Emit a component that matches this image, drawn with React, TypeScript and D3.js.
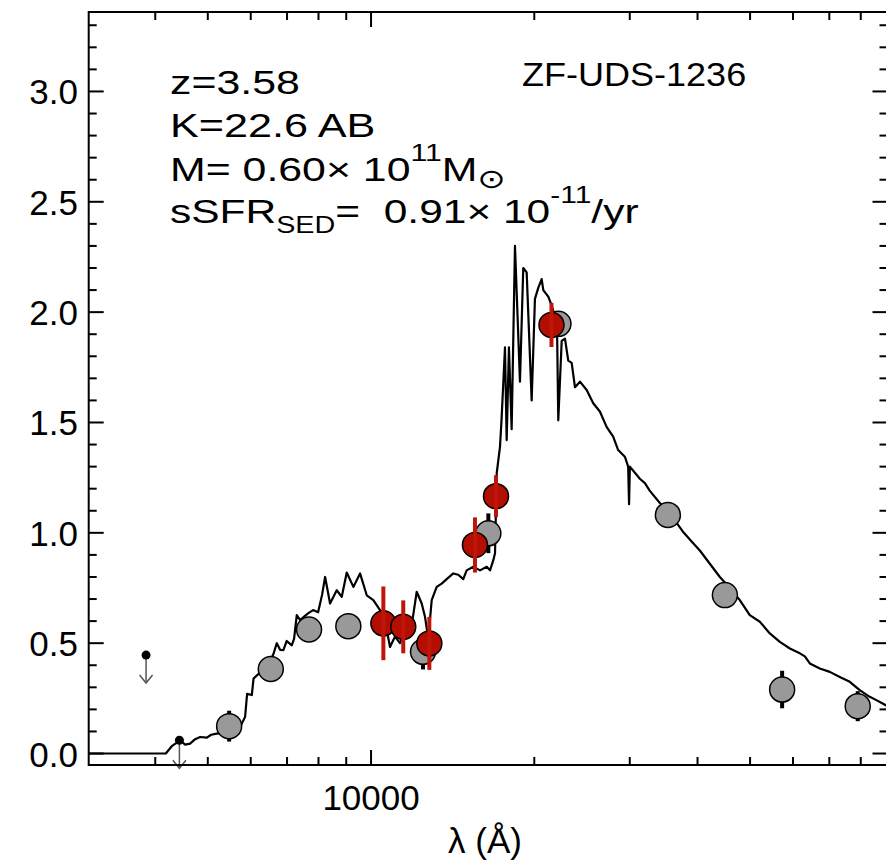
import React from 'react';
import * as d3 from 'd3';

// Model SED (observed wavelength in Angstrom, flux)
const modelLambda = [3000, 4184, 4298, 4446, 4541, 4638, 4738, 4840, 4980, 5071, 5194, 5335, 5497, 5639, 5736, 5858, 5908, 6027, 6073, 6197, 6324, 6459, 6605, 6702, 6797, 6892, 6991, 7141, 7212, 7295, 7398, 7525, 7664, 7819, 7987, 8124, 8228, 8403, 8644, 8831, 9020, 9277, 9544, 9819, 10098, 10390, 10612, 10840, 11071, 11308, 11551, 11799, 12140, 12400, 12574, 12752, 12938, 13215, 13498, 13787, 14179, 14483, 14793, 15009, 15436, 15885, 16341, 16573, 16808, 16928, 17051, 17290, 17402, 17660, 17787, 17960, 18168, 18426, 18820, 19086, 19364, 19779, 20056, 20340, 20637, 20780, 21225, 21535, 21836, 22023, 22145, 22469, 22783, 23105, 23443, 23770, 24279, 24982, 25688, 26424, 27187, 27956, 28559, 29380, 29795, 29911, 30010, 31310, 31990, 32670, 34088, 35270, 36486, 37746, 39048, 40393, 42150, 43980, 45880, 47864, 49939, 52120, 54375, 56740, 59200, 61760, 63100, 64440, 67230, 70150, 73180, 76350, 79650, 83100, 85500, 88940, 90000];
const modelFlux = [0, 0, 0.035, 0.06, 0.04, 0.045, 0.065, 0.075, 0.072, 0.085, 0.09, 0.095, 0.1, 0.11, 0.12, 0.166, 0.27, 0.265, 0.34, 0.36, 0.38, 0.4, 0.45, 0.5, 0.47, 0.468, 0.51, 0.49, 0.52, 0.627, 0.605, 0.62, 0.636, 0.65, 0.64, 0.72, 0.8, 0.68, 0.74, 0.71, 0.82, 0.755, 0.816, 0.717, 0.695, 0.65, 0.6, 0.483, 0.53, 0.5, 0.56, 0.53, 0.733, 0.68, 0.62, 0.52, 0.695, 0.755, 0.77, 0.79, 0.816, 0.81, 0.79, 0.83, 0.846, 0.83, 0.846, 0.83, 0.876, 0.907, 1.27, 1.39, 1.51, 1.84, 1.42, 1.84, 1.47, 2.3, 1.685, 2.2, 2.18, 1.6, 2.06, 2.11, 2.15, 2.1, 2.07, 2.03, 1.98, 1.95, 1.51, 1.87, 1.88, 1.78, 1.77, 1.66, 1.685, 1.647, 1.587, 1.55, 1.48, 1.436, 1.375, 1.345, 1.3, 1.13, 1.3, 1.245, 1.225, 1.19, 1.135, 1.1, 1.05, 1.0, 0.96, 0.92, 0.86, 0.8, 0.75, 0.695, 0.627, 0.597, 0.544, 0.506, 0.476, 0.454, 0.44, 0.408, 0.385, 0.37, 0.347, 0.325, 0.287, 0.257, 0.242, 0.219, 0.21];

// Broad-band photometry (gray)
const grayLambda = [5474, 6533, 7685, 9081, 12469, 16455, 22163, 35270, 44930, 57290, 78980];
const grayFlux = [0.124, 0.383, 0.562, 0.577, 0.461, 0.998, 1.947, 1.081, 0.718, 0.29, 0.2145];
const grayErr = [0.07, 0.04, 0.04, 0.04, 0.08, 0.09, 0.04, 0.04, 0.04, 0.085, 0.068];

// Medium-band photometry (red)
const redLambda = [10537, 11466, 12808, 15547, 17000, 21515];
const redFlux = [0.59, 0.574, 0.499, 0.945, 1.166, 1.942];
const redErr = [0.167, 0.12, 0.12, 0.125, 0.095, 0.1];

// Upper limits
const limLambda = [3847, 4432];
const limFlux = [0.446, 0.06];

// Axis ticks
const xMajorTicks = [10000];
const xMajorLabels = ['10000'];
const xMinorTicks = [4000, 5000, 6000, 7000, 8000, 9000, 20000, 30000, 40000, 50000, 60000, 70000, 80000];
const yMajorTicks = [0, 0.5, 1.0, 1.5, 2.0, 2.5, 3.0];
const yMajorLabels = ['0.0', '0.5', '1.0', '1.5', '2.0', '2.5', '3.0'];
const yMinorTicks = [0.1, 0.2, 0.3, 0.4, 0.6, 0.7, 0.8, 0.9, 1.1, 1.2, 1.3, 1.4, 1.6, 1.7, 1.8, 1.9, 2.1, 2.2, 2.3, 2.4, 2.6, 2.7, 2.8, 2.9, 3.1, 3.2, 3.3];

const FONT = '"Liberation Sans", Arial, Helvetica, sans-serif';

export default function App() {
  const W = 886, H = 863;
  const L = 88.7, R = 887.5, T = 12, B = 765;
  const x = d3.scaleLog().domain([3000, 90000]).range([87.5, 888.5]);
  const y = d3.scaleLinear().domain([-0.052, 3.36]).range([765, 12]);

  const line = d3.line<number>()
    .x((_, i) => x(modelLambda[i]))
    .y((d) => y(d));
  const pathD = line(modelFlux) || '';

  const majLen = 15, minLen = 8;
  const r = 12.5;

  return (
    <svg width={W} height={H} style={{ position: 'absolute', left: 0, top: 0, background: '#fff' }}
      fontFamily={FONT}>
      <defs>
        <clipPath id="plotclip">
          <rect x={L} y={T} width={R - L} height={B - T} />
        </clipPath>
      </defs>
      <rect x={0} y={0} width={W} height={H} fill="#fff" />

      {/* model */}
      <path d={pathD} fill="none" stroke="#000" strokeWidth={2.2} strokeLinejoin="round" clipPath="url(#plotclip)" />

      {/* gray points */}
      {grayLambda.map((l, i) => (
        <line key={'ge' + i} x1={x(l)} x2={x(l)} y1={y(grayFlux[i] - grayErr[i])} y2={y(grayFlux[i] + grayErr[i])}
          stroke="#000" strokeWidth={4} />
      ))}
      {grayLambda.map((l, i) => (
        <circle key={'g' + i} cx={x(l)} cy={y(grayFlux[i])} r={r} fill="#999999" stroke="#000" strokeWidth={1.5} />
      ))}

      {/* red points */}
      {redLambda.map((l, i) => (
        <circle key={'r' + i} cx={x(l)} cy={y(redFlux[i])} r={r} fill="#b40d02" stroke="#000" strokeWidth={1.5} />
      ))}
      {redLambda.map((l, i) => (
        <line key={'re' + i} x1={x(l)} x2={x(l)} y1={y(redFlux[i] - redErr[i])} y2={y(redFlux[i] + redErr[i])}
          stroke="#c0160a" strokeWidth={4} />
      ))}

      {/* upper limits */}
      {limLambda.map((l, i) => {
        const cx = x(l), cy = y(limFlux[i]);
        const tip = cy + 28;
        return (
          <g key={'u' + i}>
            <line x1={cx} x2={cx} y1={cy} y2={tip} stroke="#555" strokeWidth={1.5} />
            <polyline points={`${cx - 6.5},${tip - 8} ${cx},${tip} ${cx + 6.5},${tip - 8}`} fill="none" stroke="#555" strokeWidth={1.5} />
            <circle cx={cx} cy={cy} r={4.5} fill="#000" />
          </g>
        );
      })}

      {/* frame */}
      <rect x={L} y={T} width={R - L} height={B - T} fill="none" stroke="#000" strokeWidth={2} />

      {/* x ticks */}
      {xMajorTicks.map((t) => (
        <g key={'xM' + t}>
          <line x1={x(t)} x2={x(t)} y1={B} y2={B - majLen} stroke="#000" strokeWidth={2} />
          <line x1={x(t)} x2={x(t)} y1={T} y2={T + majLen} stroke="#000" strokeWidth={2} />
        </g>
      ))}
      {xMinorTicks.map((t) => (
        <g key={'xm' + t}>
          <line x1={x(t)} x2={x(t)} y1={B} y2={B - minLen} stroke="#000" strokeWidth={2} />
          <line x1={x(t)} x2={x(t)} y1={T} y2={T + minLen} stroke="#000" strokeWidth={2} />
        </g>
      ))}
      {xMajorTicks.map((t, i) => (
        <text key={'xl' + t} x={x(t)} y={810} fontSize={35} textAnchor="middle" fill="#000">{xMajorLabels[i]}</text>
      ))}

      {/* y ticks */}
      {yMajorTicks.map((t) => (
        <g key={'yM' + t}>
          <line x1={L} x2={L + majLen} y1={y(t)} y2={y(t)} stroke="#000" strokeWidth={2} />
          <line x1={R} x2={R - majLen} y1={y(t)} y2={y(t)} stroke="#000" strokeWidth={2} />
        </g>
      ))}
      {yMinorTicks.map((t) => (
        <g key={'ym' + t}>
          <line x1={L} x2={L + minLen} y1={y(t)} y2={y(t)} stroke="#000" strokeWidth={2} />
          <line x1={R} x2={R - minLen} y1={y(t)} y2={y(t)} stroke="#000" strokeWidth={2} />
        </g>
      ))}
      {yMajorTicks.map((t, i) => (
        <text key={'yl' + t} x={78} y={y(t) + 13} fontSize={35} textAnchor="end" fill="#000">{yMajorLabels[i]}</text>
      ))}

      {/* x axis title */}
      <text x={485} y={853} fontSize={35} textAnchor="middle" fill="#000">λ (Å)</text>

      {/* annotations */}
      <g transform="translate(170,94) scale(1.26,1)">
        <text x={0} y={0} fontSize={34} fill="#000">z=3.58</text>
      </g>
      <g transform="translate(170,137) scale(1.27,1)">
        <text x={0} y={0} fontSize={34} fill="#000">K=22.6 AB</text>
      </g>
      <g transform="translate(170,181) scale(1.26,1)">
        <text x={0} y={0} fontSize={34} fill="#000" style={{ whiteSpace: 'pre' }}>
          M= 0.60× 10<tspan fontSize={24} dy={-20}>11</tspan><tspan dy={20}>M</tspan><tspan fontSize={27} dy={7} fontFamily='"DejaVu Sans", sans-serif'>⊙</tspan>
        </text>
      </g>
      <g transform="translate(170,223) scale(1.25,1)">
        <text x={0} y={0} fontSize={34} fill="#000" style={{ whiteSpace: 'pre' }}>
          sSFR<tspan fontSize={23} dy={10}>SED</tspan><tspan dy={-10}>{'=  0.91× 10'}</tspan><tspan fontSize={24} dy={-20}>-11</tspan><tspan dy={20}>/yr</tspan>
        </text>
      </g>
      <g transform="translate(522,86) scale(1.06,1)">
        <text x={0} y={0} fontSize={34} fill="#000">ZF-UDS-1236</text>
      </g>
    </svg>
  );
}
